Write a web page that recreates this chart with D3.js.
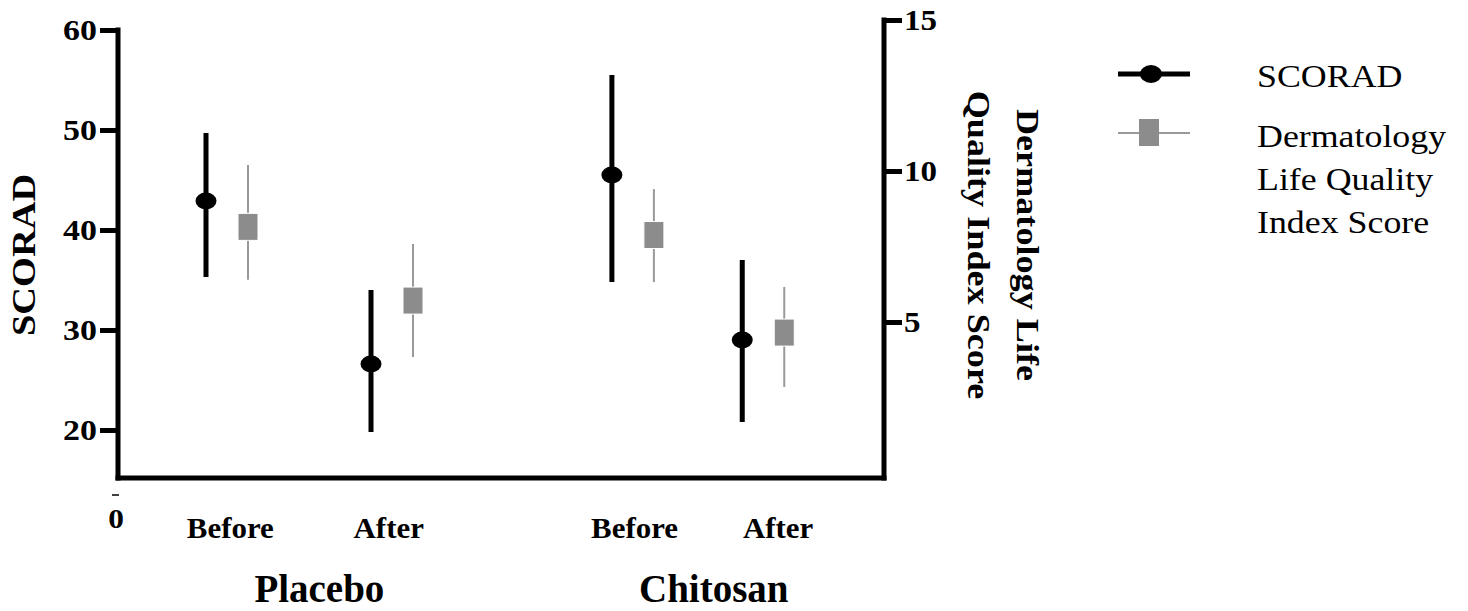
<!DOCTYPE html>
<html>
<head>
<meta charset="utf-8">
<script src="https://cdn.jsdelivr.net/npm/d3@7"></script>
<style>
  html, body { margin: 0; padding: 0; background: #fff; }
  svg { display: block; font-family: "Liberation Serif", "Times New Roman", serif; }
</style>
</head>
<body>
<svg id="chart" width="1468" height="611"></svg>
<script>
// ---- data ----
const categories = ["Before", "After", "Before", "After"];
const catX = [1, 2, 3.46, 4.25];               // x position of each category
const tickLabelX = [1.02, 1.98, 3.47, 4.34];    // where the tick labels sit
const groups = ["Placebo", "Chitosan"];
const groupX = [1.56, 3.95];

const scoradMean = [42.9, 26.6, 45.5, 29.0];
const scoradLow  = [35.3, 19.8, 34.8, 20.8];
const scoradHigh = [49.7, 34.0, 55.5, 37.0];

const dlqiMean = [8.15, 5.71, 7.88, 4.65];
const dlqiLow  = [6.4, 3.84, 6.32, 2.85];
const dlqiHigh = [10.2, 7.58, 9.40, 6.16];

const leftTicks = [20, 30, 40, 50, 60];
const rightTicks = [5, 10, 15];
const leftAxisBottom = 15.2;   // left-scale value where the x axis line sits

// ---- helpers ----
function stretch(sel, k) {
  sel.each(function () {
    const L = this.getComputedTextLength();
    d3.select(this).attr("textLength", L * k).attr("lengthAdjust", "spacingAndGlyphs");
  });
}

// ---- scales ----
const svg = d3.select("#chart");
const x = d3.scaleLinear().domain([1, 2]).range([227, 392]);
const yL = d3.scaleLinear().domain([0, 60]).range([630, 30]);
const yR = d3.scaleLinear().domain([0, 15]).range([473, 20]);

const axisLeftX = 118, axisRightX = 884;
const baseY = yL(leftAxisBottom);
const off = 21;

// ---- left axis ----
const gL = svg.append("g").attr("transform", `translate(${axisLeftX},0)`)
  .call(d3.axisLeft(yL).tickValues(leftTicks).tickSize(18).tickPadding(3).tickSizeOuter(0));
gL.select(".domain").remove();
gL.selectAll(".tick line").attr("stroke", "#000").attr("stroke-width", 5);
gL.selectAll(".tick text").attr("font-size", 30).attr("font-weight", "bold")
  .attr("font-family", "Liberation Serif").attr("fill", "#000");
stretch(gL.selectAll(".tick text"), 1.13);
svg.append("line").attr("x1", axisLeftX).attr("x2", axisLeftX)
  .attr("y1", yL(60) - 2.5).attr("y2", baseY + 2.5).attr("stroke", "#000").attr("stroke-width", 5);

// zero label (axis break)
svg.append("line").attr("x1", 112).attr("x2", 119).attr("y1", 495).attr("y2", 495)
  .attr("stroke", "#000").attr("stroke-width", 1.5);
const zero = svg.append("text").attr("x", 116).attr("y", 528).attr("text-anchor", "middle")
  .attr("font-size", 28).attr("font-weight", "bold").text("0");
stretch(zero, 1.12);

// ---- right axis ----
const gR = svg.append("g").attr("transform", `translate(${axisRightX},0)`)
  .call(d3.axisRight(yR).tickValues(rightTicks).tickSize(18).tickPadding(2).tickSizeOuter(0));
gR.select(".domain").remove();
gR.selectAll(".tick line").attr("stroke", "#000").attr("stroke-width", 5);
gR.selectAll(".tick text").attr("font-size", 30).attr("font-weight", "bold")
  .attr("font-family", "Liberation Serif").attr("fill", "#000");
stretch(gR.selectAll(".tick text"), 1.1);
svg.append("line").attr("x1", axisRightX).attr("x2", axisRightX)
  .attr("y1", yR(15) - 2.5).attr("y2", baseY + 2.5).attr("stroke", "#000").attr("stroke-width", 5);

// ---- bottom axis ----
svg.append("line").attr("x1", axisLeftX - 2.5).attr("x2", axisRightX + 2.5)
  .attr("y1", baseY).attr("y2", baseY).attr("stroke", "#000").attr("stroke-width", 5);

// category labels
const catLab = svg.selectAll(".cat").data(categories).join("text")
  .attr("x", (d, i) => x(tickLabelX[i])).attr("y", 538)
  .attr("text-anchor", "middle").attr("font-size", 30).attr("font-weight", "bold").text(d => d);
stretch(catLab, 1.03);
svg.selectAll(".grp").data(groups).join("text")
  .attr("x", (d, i) => x(groupX[i])).attr("y", 602)
  .attr("text-anchor", "middle").attr("font-size", 39).attr("font-weight", "bold").text(d => d);

// axis titles
const lt0 = svg.append("text").attr("transform", `translate(35,255) rotate(-90)`)
  .attr("text-anchor", "middle").attr("font-size", 34).attr("font-weight", "bold").text("SCORAD");
stretch(lt0, 1.13);
const rt = svg.append("text").attr("transform", `translate(1000,245) rotate(90)`)
  .attr("text-anchor", "middle").attr("font-size", 32).attr("font-weight", "bold");
rt.append("tspan").attr("x", 0).attr("y", -17).text("Dermatology Life");
rt.append("tspan").attr("x", 0).attr("y", 32).text("Quality Index Score");
stretch(rt.selectAll("tspan"), 1.13);

// ---- SCORAD series ----
const idx = d3.range(categories.length);
svg.selectAll(".sErr").data(idx).join("line")
  .attr("x1", i => x(catX[i]) - off).attr("x2", i => x(catX[i]) - off)
  .attr("y1", i => yL(scoradLow[i])).attr("y2", i => yL(scoradHigh[i]))
  .attr("stroke", "#000").attr("stroke-width", 5);
svg.selectAll(".sPt").data(idx).join("ellipse")
  .attr("cx", i => x(catX[i]) - off).attr("cy", i => yL(scoradMean[i]))
  .attr("rx", 10.5).attr("ry", 8.5).attr("fill", "#000");

// ---- DLQI series ----
svg.selectAll(".dErr").data(idx).join("line")
  .attr("x1", i => x(catX[i]) + off).attr("x2", i => x(catX[i]) + off)
  .attr("y1", i => yR(dlqiLow[i])).attr("y2", i => yR(dlqiHigh[i]))
  .attr("stroke", "#999").attr("stroke-width", 2);
svg.selectAll(".dPt").data(idx).join("rect")
  .attr("x", i => x(catX[i]) + off - 10).attr("y", i => yR(dlqiMean[i]) - 13.5)
  .attr("width", 20).attr("height", 27).attr("fill", "#8c8c8c")
  .attr("stroke", "#fff").attr("stroke-width", 1);

// ---- legend ----
const lg = svg.append("g");
lg.append("line").attr("x1", 1118).attr("x2", 1190).attr("y1", 74).attr("y2", 74)
  .attr("stroke", "#000").attr("stroke-width", 5);
lg.append("ellipse").attr("cx", 1151).attr("cy", 74).attr("rx", 11).attr("ry", 9).attr("fill", "#000");
const lgS = lg.append("text").attr("x", 1257).attr("y", 87).attr("font-size", 32).text("SCORAD");
stretch(lgS, 1.12);

lg.append("line").attr("x1", 1118).attr("x2", 1190).attr("y1", 133).attr("y2", 133)
  .attr("stroke", "#999").attr("stroke-width", 2);
lg.append("rect").attr("x", 1139).attr("y", 119).attr("width", 20).attr("height", 27).attr("fill", "#8c8c8c");
const lt = lg.append("text").attr("font-size", 32);
["Dermatology", "Life Quality", "Index Score"].forEach((s, i) => {
  lt.append("tspan").attr("x", 1257).attr("y", 147 + i * 43).text(s);
});
stretch(lt.selectAll("tspan"), 1.12);
</script>
</body>
</html>
